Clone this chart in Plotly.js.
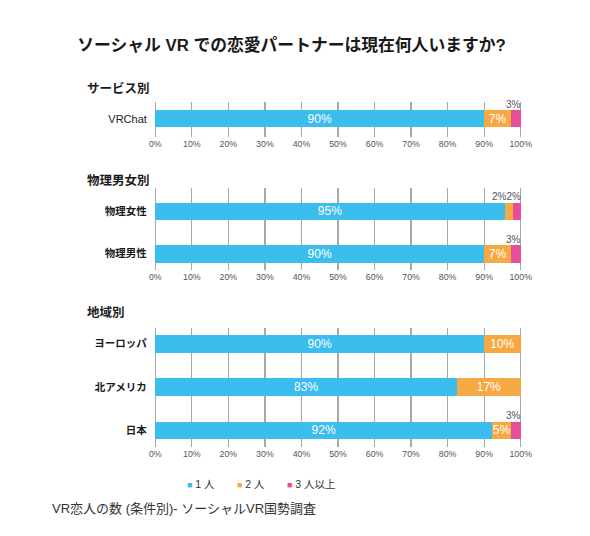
<!DOCTYPE html>
<html>
<head>
<meta charset="utf-8">
<script src="https://cdn.plot.ly/plotly-3.0.1.min.js"></script>
<style>html,body{margin:0;padding:0;background:#fff;}#chart{width:590px;height:536px;}</style>
</head>
<body>
<div id="chart"></div>
<script>
// ---- data ----
const seriesNames = ['1 人', '2 人', '3 人以上'];
const seriesColors = ['#3bbdee', '#f6a843', '#e64d9b'];

const serviceCats = ['VRChat'];
const serviceOne = [90];
const serviceTwo = [7.4];
const serviceThree = [2.6];
const serviceOneLabels = ['90%'];
const serviceTwoLabels = ['7%'];
const serviceThreeLabels = ['3%'];

const genderCats = ['物理女性', '物理男性'];
const genderOne = [95.6, 90];
const genderTwo = [2.2, 7.4];
const genderThree = [2.2, 2.6];
const genderOneLabels = ['95%', '90%'];
const genderTwoLabels = ['2%', '7%'];
const genderThreeLabels = ['2%', '3%'];

const regionCats = ['ヨーロッパ', '北アメリカ', '日本'];
const regionOne = [90, 82.6, 92.2];
const regionTwo = [10, 17.4, 5.2];
const regionThree = [0, 0, 2.6];
const regionOneLabels = ['90%', '83%', '92%'];
const regionTwoLabels = ['10%', '17%', '5%'];
const regionThreeLabels = ['', '', '3%'];

const sectionTitles = ['サービス別', '物理男女別', '地域別'];
const chartTitle = 'ソーシャル VR での恋愛パートナーは現在何人いますか?';
const caption = 'VR恋人の数 (条件別)- ソーシャルVR国勢調査';
const xTickVals = [0, 10, 20, 30, 40, 50, 60, 70, 80, 90, 100];

// ---- layout helpers ----
const W = 590, H = 536;
const FONT = 'Liberation Sans, Noto Sans CJK JP, sans-serif';
const SMALL = 4; // segments narrower than this get their label above the bar

const panels = [
  {cats: serviceCats, vals: [serviceOne, serviceTwo, serviceThree],
   labels: [serviceOneLabels, serviceTwoLabels, serviceThreeLabels],
   top: 101.7, bottom: 136.7, yrange: [0.52, -0.49], bw: 0.5, bold: false, tsize: 11, titleY: 88.3},
  {cats: genderCats, vals: [genderOne, genderTwo, genderThree],
   labels: [genderOneLabels, genderTwoLabels, genderThreeLabels],
   top: 188.3, bottom: 270, yrange: [1.381, -0.541], bw: 0.41, bold: true, tsize: 10.5, titleY: 180.7},
  {cats: regionCats, vals: [regionOne, regionTwo, regionThree],
   labels: [regionOneLabels, regionTwoLabels, regionThreeLabels],
   top: 328, bottom: 446.7, yrange: [2.379, -0.365], bw: 0.405, bold: true, tsize: 10.5, titleY: 312.3}
];

const xDomain = [153.84 / W, 522.16 / W];
const traces = [];
const annotations = [];
const layout = {
  width: W, height: H,
  margin: {l: 0, r: 0, t: 0, b: 0},
  paper_bgcolor: '#fff', plot_bgcolor: '#fff',
  barmode: 'stack',
  showlegend: false,
  hovermode: false,
  font: {family: FONT, color: '#222'},
  title: {text: chartTitle, x: 291.5 / W, xanchor: 'center', y: 1 - 45 / H, yanchor: 'middle',
          font: {family: FONT, size: 16.8, weight: 'bold', color: '#1a1a1a'}}
};

panels.forEach((p, pi) => {
  const n = pi === 0 ? '' : String(pi + 1);
  const xa = 'x' + n, ya = 'y' + n;
  p.vals.forEach((v, si) => {
    traces.push({
      type: 'bar', orientation: 'h',
      x: v, y: p.cats, xaxis: xa, yaxis: ya,
      name: seriesNames[si],
      width: p.bw,
      marker: {color: seriesColors[si], line: {width: 0}},
      text: p.labels[si].map((t, i) => (v[i] >= SMALL ? t : '')),
      textposition: 'inside', insidetextanchor: 'middle', textangle: 0,
      constraintext: 'none',
      textfont: {family: FONT, size: 12, color: '#ffffff'},
      cliponaxis: false
    });
  });
  // small-segment labels above the right end of each bar
  p.cats.forEach((c, ci) => {
    let total = 0, small = [];
    p.vals.forEach((v, si) => {
      total += v[ci];
      if (v[ci] > 0 && v[ci] < SMALL && p.labels[si][ci]) small.push(p.labels[si][ci]);
    });
    if (small.length) {
      annotations.push({
        xref: xa, yref: ya, x: total, y: c, xanchor: 'right', yanchor: 'middle',
        yshift: 14.5, xshift: 2.5, showarrow: false, text: small.join(''),
        font: {family: FONT, size: 10, color: '#555'}
      });
    }
  });
  layout['xaxis' + n] = {
    domain: xDomain, anchor: ya, range: [-0.4, 100.4],
    tickvals: xTickVals, ticktext: xTickVals.map(v => v + '%'),
    showgrid: true, gridcolor: '#a8a8a8', gridwidth: 1.3,
    zeroline: false, showline: false, ticks: '',
    tickfont: {family: FONT, size: 8.8, color: '#555'}, fixedrange: true
  };
  layout['yaxis' + n] = {
    domain: [1 - p.bottom / H, 1 - p.top / H], anchor: xa,
    type: 'category', range: p.yrange,
    showgrid: false, zeroline: false, showline: false, ticks: '',
    ticklabelstandoff: 6,
    tickfont: {family: FONT, size: p.tsize, color: '#1a1a1a', weight: p.bold ? 'bold' : 'normal'},
    fixedrange: true
  };
  annotations.push({
    xref: 'paper', yref: 'paper', x: 85 / W, y: 1 - p.titleY / H,
    xanchor: 'left', yanchor: 'middle', showarrow: false, text: sectionTitles[pi],
    font: {family: FONT, size: 12.5, weight: 'bold', color: '#1a1a1a'}
  });
});

// legend drawn as text entries
seriesNames.forEach((nm, i) => {
  annotations.push({
    xref: 'paper', yref: 'paper', x: (185 + i * 50) / W, y: 1 - 484 / H,
    xanchor: 'left', yanchor: 'middle', showarrow: false,
    text: '<span style="color:' + seriesColors[i] + ';font-size:9px">■</span> ' + nm,
    font: {family: FONT, size: 10.5, color: '#333'}
  });
});

annotations.push({
  xref: 'paper', yref: 'paper', x: 50 / W, y: 1 - 508 / H,
  xanchor: 'left', yanchor: 'middle', showarrow: false, text: caption,
  font: {family: FONT, size: 13, color: '#333'}
});

layout.annotations = annotations;
Plotly.newPlot('chart', traces, layout, {displayModeBar: false, staticPlot: true});
</script>
</body>
</html>
